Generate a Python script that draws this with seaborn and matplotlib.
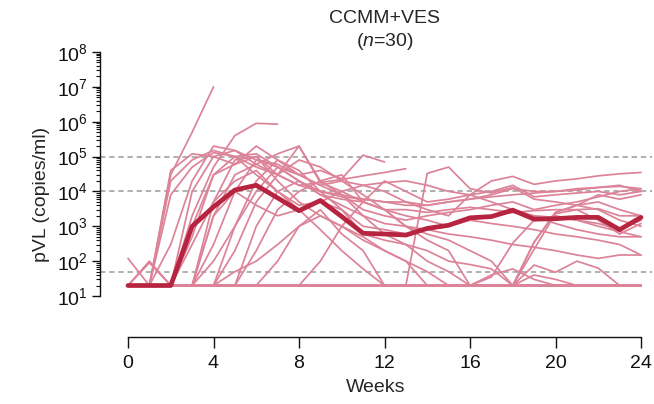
import numpy as np
import pandas as pd
import matplotlib
matplotlib.use("Agg")
import matplotlib.pyplot as plt
import seaborn as sns

weeks = list(range(25))

subjects = [
    [20, 20, 3e4, 5e5, 1e7],
    [20, 20, 20, 2e3, 5e4, 4e5, 9e5, 8.5e5],
    [20, 20, 4e4, 1.2e5, 1e5, 1.5e5, 6e4, 3e4, 2e5, 2e4, 8e3, 3e3, 2e3, 1.5e3, 2e3, 2.5e3, 3e3, 4e3, 5e3, 3e3, 4e3, 5e3, 7e3, 1e4, 1.2e4],
    [20, 20, 2e4, 8e4, 1.5e5, 1e5, 1.2e5, 5e4, 2e4, 1e4, 7e3, 6e3, 5e3, 5e3, 4e3, 5e3, 6e3, 8e3, 1.2e4, 1e4, 1e4, 1.1e4, 1.3e4, 1.5e4, 1e4],
    [20, 20, 20, 1e4, 1e5, 6e4, 2e5, 8e4, 3e4, 1.5e4, 2e4, 1.5e4, 1e4, 5e3, 3e3, 2e3, 8e3, 2e4, 2.7e4, 1.6e4, 2e4, 2.3e4, 2.8e4, 3.2e4, 3.5e4],
    [20, 20, 20, 5e2, 3e4, 1e5, 3e4, 1e4, 4e3, 5e3, 3e3, 6e2, 4e2, 3e2, 2e2, 100, 80, 60, 20, 20, 20, 20, 20, 20, 20],
    [20, 100, 20, 20, 5e3, 8e4, 1e5, 3e4, 1.5e4, 1.8e4, 2.2e4, 2.8e4, 3.5e4, 4.5e4],
    [20, 20, 20, 20, 2e3, 3e4, 6e4, 1.2e5, 2e5, 1.8e4, 1e4, 5e3, 3e3, 2e3, 1.5e3, 1e3, 1.5e3, 2e3, 2.5e3, 2e3, 1.8e3, 1.5e3, 1e3, 700, 500],
    [20, 20, 20, 20, 3e2, 1e4, 8e4, 5e4, 3e4, 4e4, 2.3e4, 1.1e5, 7e4],
    [20, 20, 20, 20, 20, 2e2, 5e3, 3e4, 8e4, 5e4, 2e4, 8e3, 3e3, 1e3, 6e2, 4e2, 2e2, 100, 20, 3.5e2, 2.5e3, 4e3, 5e3, 3e3, 2e3],
    [20, 20, 20, 20, 20, 20, 1e3, 1e4, 2e4, 8e3, 4e3, 2e3, 1.2e3, 1e3, 8e2, 6e2, 5e2, 4e2, 3e2, 2.5e2, 2e2, 1.5e2, 1.2e2, 150, 150],
    [20] * 25,
    [20] * 19 + [77, 48, 100, 63, 20, 20],
    [20] * 14 + [3.3e4, 5e4, 1.2e4, 9e3, 1.3e4, 6e3, 5e3, 4e3, 3e3, 1.5e3, 1e3],
    [20] * 19 + [350, 2.5e3, 4e3, 8e3, 6e3, 8e3],
    [20] * 19 + [220, 2.3e3, 3e3, 1.5e3, 6e2, 1.2e3],
    [20] * 17 + [35, 330, 1.5e3, 2e3, 1.5e3, 1.2e3, 8e2, 1.5e3],
    [20, 20, 20, 20, 20, 20, 20, 20, 20, 100, 1e3, 5e3, 2e4, 1e4, 5e3, 6e3, 8e3, 1e4, 1.5e4, 7e3, 8e3, 9e3, 1e4, 8e3, 1e4],
    [20, 20, 20, 20, 20, 20, 200, 3e3, 1e4, 2e4, 3e4, 5e3, 3e3, 1e3, 4e2, 2e2, 20, 20, 20, 20, 20, 20, 20, 20, 20],
    [20, 20, 20, 20, 20, 20, 20, 100, 1e3, 3e3, 600, 200, 20, 20, 20, 20, 20, 20, 20, 20, 20, 20, 20, 20, 20],
    [20, 20, 20, 3e2, 5e3, 2e4, 4e4, 1e4, 3e3, 8e2, 2e2, 60, 20, 20, 20, 20, 20, 20, 20, 20, 20, 20, 20, 20, 20],
    [20, 20, 20, 20, 2e3, 1e4, 4e3, 2e3, 3e3, 5e3, 1e4, 1.5e4, 1.8e4, 2e4, 1.5e4, 1e4, 8e3, 5e3, 3e3, 2e3, 1.2e3, 8e2, 6e2, 5e2, 5e2],
    [20, 20, 20, 20, 20, 50, 100, 300, 1e3, 2e3, 1e3, 400, 200, 100, 50, 20, 20, 40, 60, 30, 20, 20, 20, 20, 20],
    [20, 20, 3e2, 2e4, 2e5, 1.5e5, 8e4, 6e4, 3e4, 1.5e4, 8e3, 2e3, 6e2, 3e2, 100, 50, 20, 20, 20, 20, 20, 20, 20, 20, 20],
    [20, 20, 20, 20, 100, 1e3, 1e4, 5e4, 2e4, 8e3, 6e3, 5e3, 3e3, 3e3, 2.5e3, 3e3, 3.5e3, 3e3, 2.5e3, 2.8e3, 3e3, 3e3, 3.2e3, 2e3, 2e3],
    [20, 20, 20, 1e3, 3e4, 6e4, 1e5, 2e4, 5e3, 2e3, 1e3, 5e2, 2e2, 100, 20, 20, 20, 20, 20, 20, 20, 20, 20, 20, 20],
    [120, 20, 20, 20, 20, 20, 20, 20, 20, 20, 20, 20, 20, 20, 20, 20, 20, 20, 20, 20, 20, 20, 20, 20, 20],
    [20, 20, 8e3, 5e4, 1.3e5, 1e5, 5e4, 3e4, 1.5e4, 1e4, 8e3, 6e3, 5e3, 4e3, 4e3, 5e3, 6e3, 7e3, 8e3, 9e3, 1e4, 1.2e4, 1.3e4, 1.4e4, 1.2e4],
    [20, 20, 20, 20, 20, 1e3, 2e4, 8e4, 4e4, 1e4, 3e3, 1e3, 8e2, 6e2, 8e2, 1e3, 1.5e3, 1.2e3, 1e3, 8e2, 6e2, 5e2, 4e2, 3e2, 150],
    [20, 90, 20, 20, 20, 20, 20, 20, 20, 20, 20, 20, 20, 20, 20, 20, 20, 20, 20, 40, 30, 20, 20, 20, 20],
]

median = [20, 20, 20, 1000, 3600, 11000, 15000, 6500, 2800, 5500, 1900, 630, 600, 560,
          870, 1070, 1750, 1900, 2900, 1600, 1650, 1800, 1800, 800, 1800]

thresholds = [1e5, 1e4, 50]

rows = []
for sid, vals in enumerate(subjects):
    for w, v in zip(weeks, vals):
        rows.append({"subject": sid, "week": w, "pvl": v})
df = pd.DataFrame(rows)
dmed = pd.DataFrame({"week": weeks, "pvl": median})

sns.set_style("ticks")
plt.rcParams["font.family"] = ["Liberation Sans", "DejaVu Sans"]
plt.rcParams["mathtext.fontset"] = "custom"
plt.rcParams["mathtext.rm"] = "Liberation Sans"
plt.rcParams["mathtext.it"] = "Liberation Sans:italic"

fig = plt.figure(figsize=(6.54, 4.04), dpi=100)
ax = fig.add_axes([100 / 654, (404 - 337) / 404, (652 - 100) / 654, (337 - 52) / 404])

for t in thresholds:
    ax.axhline(t, color="#9a9a9a", lw=1.1, ls=(0, (3.5, 2.5)), zorder=1)

sns.lineplot(data=df, x="week", y="pvl", units="subject", estimator=None,
             color="#DC8398", lw=1.25, ax=ax, zorder=2)
sns.lineplot(data=dmed, x="week", y="pvl", color="#B7243F", lw=3.4, ax=ax, zorder=3)

ax.set_yscale("log")
ax.set_xlim(-28 / 21.375, 24 + 11 / 21.375)
ax.set_ylim(10 ** (1 - 41 / 34.86), 1e8)

ax.spines["top"].set_visible(False)
ax.spines["right"].set_visible(False)
ax.spines["left"].set_bounds(10, 1e8)
ax.spines["bottom"].set_bounds(0, 24)
for s in ("left", "bottom"):
    ax.spines[s].set_linewidth(1.0)
    ax.spines[s].set_color("#111111")

ax.set_xticks(range(0, 25, 4))
ax.set_xticklabels([str(x) for x in range(0, 25, 4)])
ax.set_yticks([10 ** k for k in range(1, 9)])
ax.set_yticklabels([r"$\mathregular{10^{%d}}$" % k for k in range(1, 9)])
ax.set_yticks([m * 10 ** k for k in range(1, 8) for m in range(2, 10)], minor=True)
ax.tick_params(axis="x", length=8, width=1, labelsize=14, pad=5, colors="#111111")
ax.tick_params(axis="y", which="major", length=6, width=1, labelsize=14, pad=3, colors="#111111")
ax.tick_params(axis="y", which="minor", length=3, width=0.8, colors="#111111")

ax.set_xlabel("Weeks", fontsize=14, labelpad=5)
ax.set_ylabel("pVL (copies/ml)", fontsize=14, labelpad=5)
ax.set_title("CCMM+VES\n" + r"($\mathit{n}$=30)", fontsize=14, pad=2.5,
             x=((128 + 641) / 2 - 100) / 552, linespacing=1.25)

fig.savefig("out.png", dpi=100)
